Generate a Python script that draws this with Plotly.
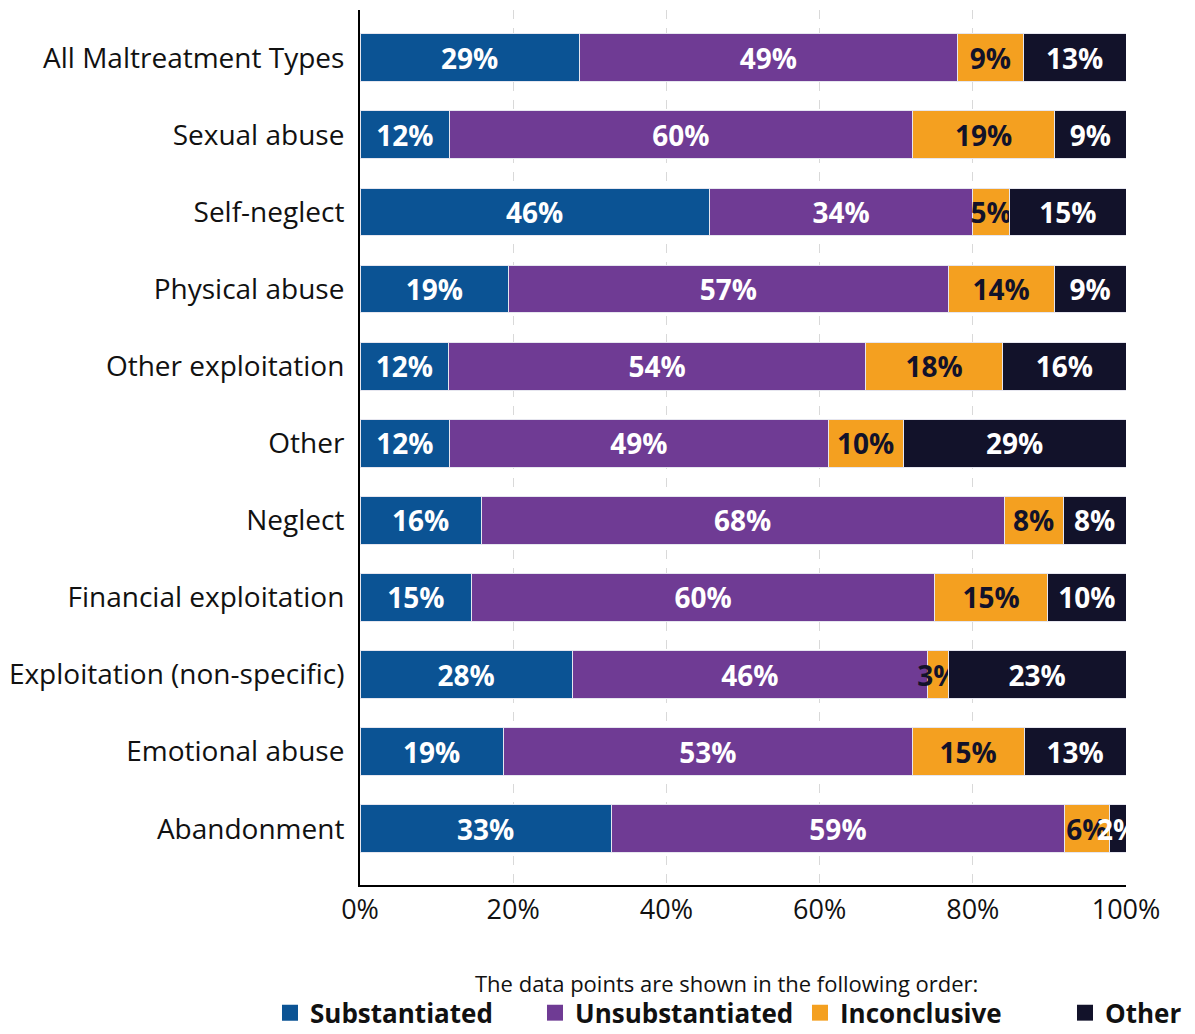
import plotly.graph_objects as go

categories = ["All Maltreatment Types", "Sexual abuse", "Self-neglect", "Physical abuse",
              "Other exploitation", "Other", "Neglect", "Financial exploitation",
              "Exploitation (non-specific)", "Emotional abuse", "Abandonment"]

substantiated = [28.6, 11.7, 45.6, 19.4, 11.6, 11.7, 15.8, 14.6, 27.7, 18.7, 32.8]
unsubstantiated = [49.4, 60.4, 34.4, 57.4, 54.4, 49.4, 68.3, 60.4, 46.4, 53.4, 59.2]
inconclusive = [8.6, 18.6, 4.8, 13.8, 17.9, 9.8, 7.7, 14.8, 2.7, 14.6, 5.8]
other = [13.4, 9.3, 15.2, 9.4, 16.1, 29.1, 8.2, 10.2, 23.2, 13.3, 2.2]

series_names = ["Substantiated", "Unsubstantiated", "Inconclusive", "Other"]
series_values = [substantiated, unsubstantiated, inconclusive, other]
series_colors = ["#0b5394", "#6f3b94", "#f4a020", "#12122a"]
text_colors = ["white", "white", "#12122a", "white"]

x_ticks = [0, 20, 40, 60, 80, 100]
x_tick_labels = ["0%", "20%", "40%", "60%", "80%", "100%"]

legend_title = "The data points are shown in the following order:"

FONT = "Open Sans"

fig = go.Figure()
for name, vals, col, tcol in zip(series_names, series_values, series_colors, text_colors):
    fig.add_trace(go.Bar(
        y=categories, x=vals, orientation="h", name=name,
        marker=dict(color=col, line=dict(color="#e6e6ef", width=1)),
        text=[f"{round(v)}%" for v in vals],
        textposition="inside", insidetextanchor="middle", textangle=0,
        textfont=dict(family=FONT, size=28, color=tcol, weight="bold"),
        showlegend=False, hoverinfo="skip", cliponaxis=True,
    ))
for name, col in zip(series_names, series_colors):
    fig.add_trace(go.Scatter(
        x=[None], y=[None], mode="markers", name=name,
        marker=dict(symbol="square", size=18, color=col),
        showlegend=True,
    ))

fig.add_annotation(
    text=legend_title, xref="paper", yref="paper", x=0.479, y=-0.112,
    xanchor="center", yanchor="middle", showarrow=False,
    font=dict(family=FONT, size=22, color="#111111"),
)

fig.update_layout(
    barmode="stack",
    bargap=0.38,
    width=1187, height=1026,
    margin=dict(l=352, r=69, t=2, b=149, autoexpand=False),
    paper_bgcolor="white", plot_bgcolor="white",
    font=dict(family=FONT, color="#111111"),
    uniformtext=dict(minsize=28, mode="show"),
    xaxis=dict(
        range=[0, 100], tickvals=x_ticks, ticktext=x_tick_labels,
        showgrid=True, gridcolor="#d9d9d9", griddash="dash", gridwidth=1,
        showline=True, linecolor="black", linewidth=2,
        ticks="", tickfont=dict(family=FONT, size=27, color="#111111"),
        zeroline=False, fixedrange=True, automargin=False,
    ),
    yaxis=dict(
        categoryorder="array", categoryarray=categories,
        range=[10.73, -0.62],
        showline=True, linecolor="black", linewidth=2,
        ticks="", ticklabelstandoff=8,
        tickfont=dict(family=FONT, size=28, color="#111111"),
        showgrid=False, automargin=False,
    ),
    legend=dict(
        orientation="h", x=-0.1175, xref="paper", xanchor="left",
        y=-0.146, yref="paper", yanchor="middle",
        traceorder="normal",
        font=dict(family=FONT, size=26, color="#111111", weight="bold"),
        itemsizing="trace", entrywidth=220, entrywidthmode="pixels",
    ),
)

fig.write_html("out.html")
